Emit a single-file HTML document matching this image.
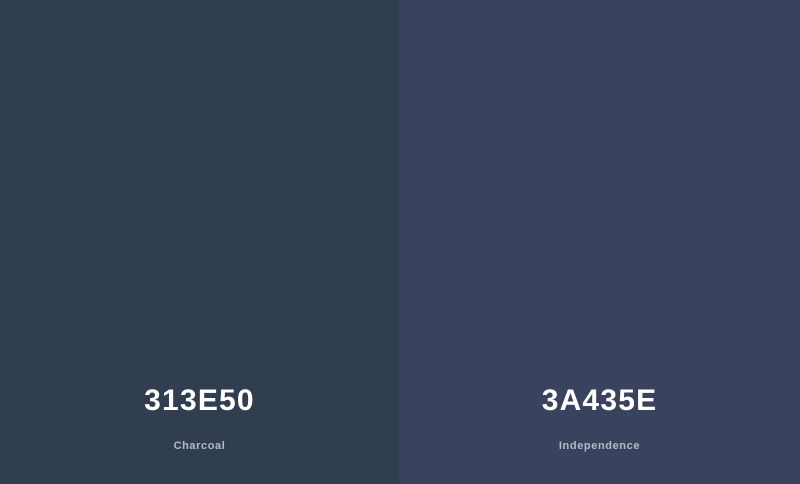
<!DOCTYPE html>
<html><head><meta charset="utf-8"><style>
html,body{margin:0;padding:0;width:800px;height:484px;overflow:hidden;font-family:"Liberation Sans",sans-serif}
.sw{position:absolute;top:0;height:484px}
.hex{position:absolute;left:0;right:0;top:383px;text-align:center;color:#fff;font-size:30px;font-weight:bold;letter-spacing:1.2px;line-height:36px}
.nm{position:absolute;left:0;right:0;top:439px;text-align:center;color:#b4bac6;font-size:11px;font-weight:bold;letter-spacing:0.6px;line-height:14px}
</style></head><body>
<div class="sw" style="left:0;width:399px;background:#313E50">
<div class="hex">313E50</div>
<div class="nm">Charcoal</div>
</div>
<div class="sw" style="left:399px;width:401px;background:#3A435E">
<div class="hex">3A435E</div>
<div class="nm">Independence</div>
</div>
</body></html>
